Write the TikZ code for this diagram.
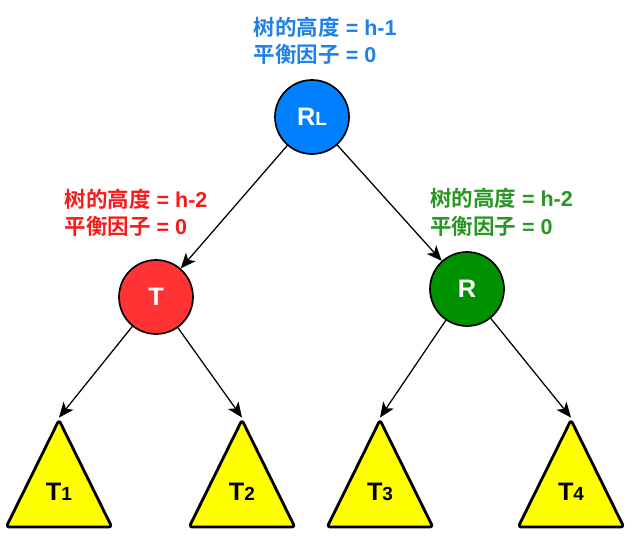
\documentclass[tikz,border=0pt]{standalone}
\usepackage{fontspec}
\setmainfont{Liberation Sans}
\newfontfamily\cjk{Noto Sans CJK SC}[BoldFont={Noto Sans CJK SC Bold}]
\usepackage{tikz}
\usetikzlibrary{arrows.meta, positioning}
\usepackage{xcolor}
\definecolor{rlBlue}{RGB}{0,127,255}
\definecolor{rlText}{RGB}{30,128,232}
\definecolor{tRed}{RGB}{255,51,51}
\definecolor{tText}{RGB}{250,25,25}
\definecolor{rGreen}{RGB}{0,145,0}
\definecolor{rText}{RGB}{40,150,35}
\definecolor{subYellow}{RGB}{255,255,0}

\begin{document}
\begin{tikzpicture}[
    on grid,
    circNode/.style={
        circle,
        draw=black,
        line width=1.2pt,
        minimum size=1.85cm,
        inner sep=0pt,
        text=white,
        font=\bfseries\fontsize{18}{18}\selectfont
    },
    infoText/.style={
        align=left,
        inner sep=0pt,
        font=\bfseries\fontsize{15.3}{19.4}\selectfont
    },
    subLabel/.style={
        inner sep=0pt,
        font=\bfseries\fontsize{18}{18}\selectfont
    },
    subTri/.style={
        draw=black,
        line width=2pt,
        fill=subYellow,
        rounded corners=2pt,
        line join=round
    },
    edge/.style={
        -{Stealth[length=0.38cm, width=0.32cm, inset=0.1cm]},
        line width=0.9pt
    }
]
\useasboundingbox (0,0) rectangle (15.825,-13.575);

% Root
\node[circNode, fill=rlBlue] (rl) at (7.8,-2.925) {R{\fontsize{13.5}{13.5}\selectfont L}};
\node[infoText, text=rlText, above=1.9cm of rl, xshift=0.33cm] (rlInfo) {
{\cjk 树的高度} = h-1\\
{\cjk 平衡因子} = 0
};

% Row 2
\node[circNode, fill=tRed, below left=4.5cm and 3.9cm of rl] (t) {T};
\node[infoText, text=tText, above=2.1cm of t, xshift=-0.5cm] (tInfo) {
{\cjk 树的高度} = h-2\\
{\cjk 平衡因子} = 0
};

\node[circNode, fill=rGreen, below right=4.3cm and 3.875cm of rl] (r) {R};
\node[infoText, text=rText, above=1.92cm of r, xshift=0.86cm] (rInfo) {
{\cjk 树的高度} = h-2\\
{\cjk 平衡因子} = 0
};

% Row 3
\coordinate[below left=4.875cm and 2.425cm of t] (t1c);
\coordinate[below right=4.875cm and 2.15cm of t] (t2c);
\coordinate[below left=5.075cm and 2.175cm of r] (t3c);
\coordinate[below right=5.075cm and 2.6cm of r] (t4c);

\draw[subTri] ([yshift=1.8cm]t1c) -- ([shift={(-1.32cm,-0.875cm)}]t1c) -- ([shift={(1.32cm,-0.875cm)}]t1c) -- cycle;
\draw[subTri] ([yshift=1.8cm]t2c) -- ([shift={(-1.32cm,-0.875cm)}]t2c) -- ([shift={(1.32cm,-0.875cm)}]t2c) -- cycle;
\draw[subTri] ([yshift=1.8cm]t3c) -- ([shift={(-1.32cm,-0.875cm)}]t3c) -- ([shift={(1.32cm,-0.875cm)}]t3c) -- cycle;
\draw[subTri] ([yshift=1.8cm]t4c) -- ([shift={(-1.32cm,-0.875cm)}]t4c) -- ([shift={(1.32cm,-0.875cm)}]t4c) -- cycle;

\node[subLabel] (t1) at (t1c) {T{\fontsize{13.5}{13.5}\selectfont 1}};
\node[subLabel] (t2) at (t2c) {T{\fontsize{13.5}{13.5}\selectfont 2}};
\node[subLabel] (t3) at (t3c) {T{\fontsize{13.5}{13.5}\selectfont 3}};
\node[subLabel] (t4) at (t4c) {T{\fontsize{13.5}{13.5}\selectfont 4}};

\coordinate (t1top) at ([yshift=1.86cm]t1c);
\coordinate (t2top) at ([yshift=1.86cm]t2c);
\coordinate (t3top) at ([yshift=1.86cm]t3c);
\coordinate (t4top) at ([yshift=1.86cm]t4c);

% Connectors
\draw[edge] (rl) -- (t);
\draw[edge] (rl) -- (r);
\draw[edge] (t) -- (t1top);
\draw[edge] (t) -- (t2top);
\draw[edge] (r) -- (t3top);
\draw[edge] (r) -- (t4top);

\end{tikzpicture}
\end{document}
